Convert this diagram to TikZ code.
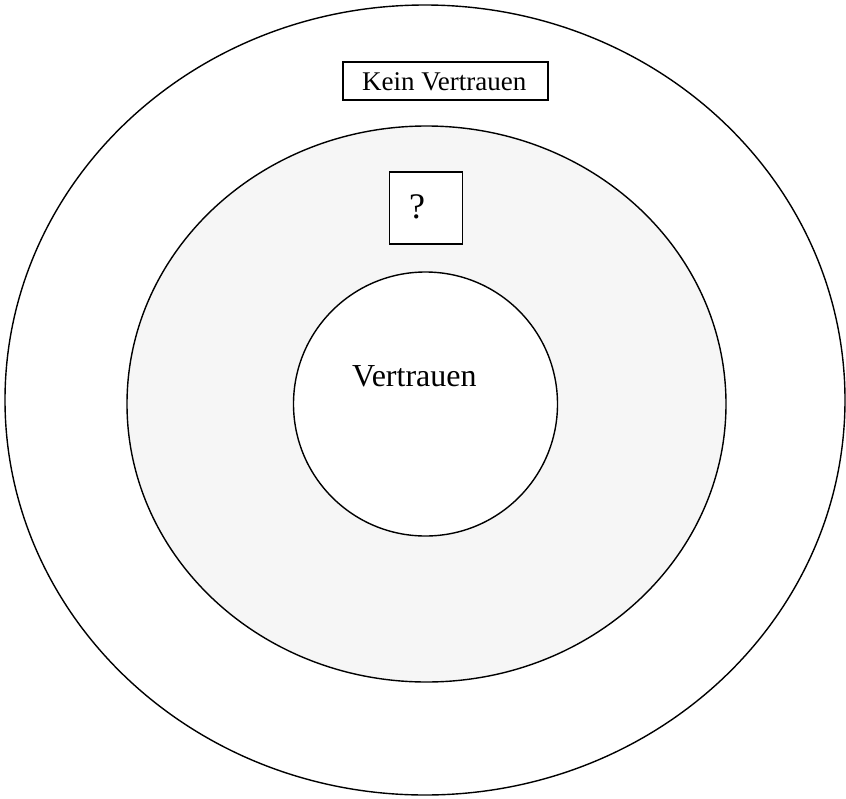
\documentclass[tikz,border=0pt]{standalone}
\usepackage{fontspec}
\setmainfont{Liberation Serif}
\usetikzlibrary{shapes.geometric}
\definecolor{ringgray}{HTML}{F6F6F6}
\begin{document}
\begin{tikzpicture}[x=1pt,y=-1pt,
  ring/.style={draw=black,line width=1.4pt},
  labelbox/.style={draw=black,line width=1.5pt,fill=white,inner sep=0pt},
  lbl/.style={inner sep=0pt,anchor=base west}]
\useasboundingbox (0,0) rectangle (846,798);
\node[ring,ellipse,minimum width=840pt,minimum height=790pt,inner sep=0pt] (outer) at (425,400) {};
\node[ring,fill=ringgray,ellipse,minimum width=599pt,minimum height=556pt,inner sep=0pt] (middle) at (426.5,404) {};
\node[ring,fill=white,circle,minimum size=264pt,inner sep=0pt] (inner) at (425.5,404) {};
\node[labelbox,minimum width=205pt,minimum height=38pt] (kein) at (445.5,81) {};
\node[lbl,font=\fontsize{27}{30}\selectfont] (keint) at (362,90) {Kein Vertrauen};
\node[labelbox,minimum width=73pt,minimum height=72pt] (q) at (426,208) {};
\node[lbl,font=\fontsize{36}{40}\selectfont] (qt) at (409,218) {?};
\node[lbl,font=\fontsize{32}{36}\selectfont] (vt) at (352,386) {Vertrauen};
\end{tikzpicture}
\end{document}
